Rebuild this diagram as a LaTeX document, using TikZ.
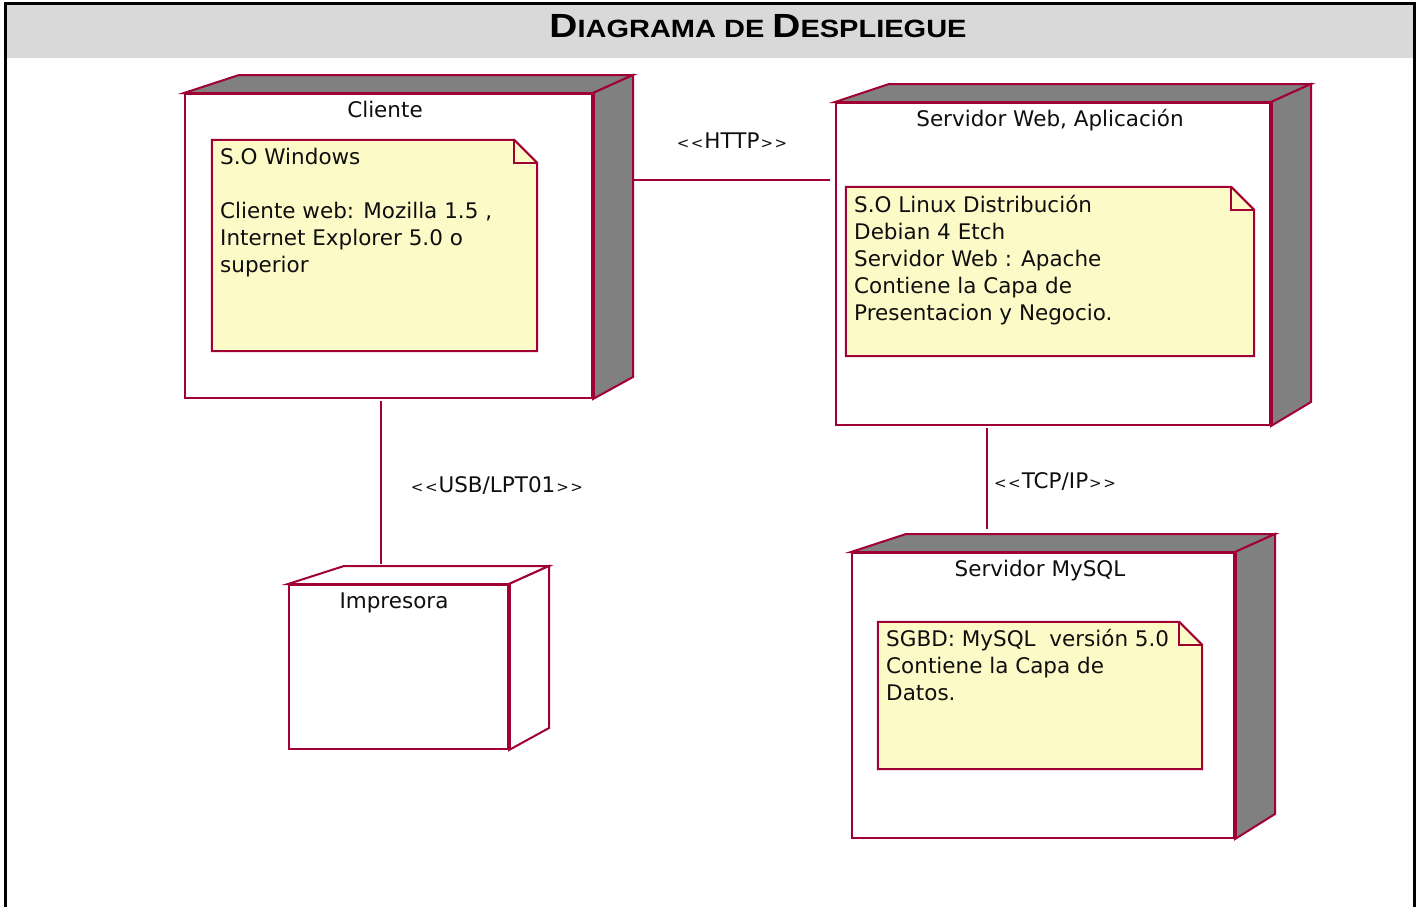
\documentclass[tikz,border=0pt]{standalone}
\usepackage{fontspec}
\usepackage{graphicx}
\setmainfont{DejaVu Sans}
\newfontfamily\headfont{Liberation Sans}
\usetikzlibrary{calc}

\definecolor{edge}{RGB}{160,0,50}
\definecolor{shade}{RGB}{128,128,128}
\definecolor{notefill}{RGB}{252,251,200}
\definecolor{band}{RGB}{217,217,217}
\definecolor{ink}{RGB}{15,15,15}

% stereotype brackets, kept apart so they are not merged into guillemets
\newcommand{\stin}{{\fontsize{15}{15}\selectfont<\kern1.5pt<}\kern1pt}
\newcommand{\stout}{\kern1pt{\fontsize{15}{15}\selectfont>\kern1.5pt>}}

\tikzset{
  txt/.style={inner sep=0pt, text=ink, font=\fontsize{21.5}{27}\selectfont},
  front/.style={draw=edge, line width=2pt, fill=white, inner sep=0pt},
  face/.style={draw=edge, line width=2pt, line join=miter},
  notebody/.style={inner sep=0pt},
  noteline/.style={draw=edge, line width=2pt, fill=notefill},
  link/.style={draw=edge, line width=2pt}
}

% 3D faces of a deployment node: #1 node, #2 face fill, #3 top-left shift, #4 bottom-right rise
\newcommand{\nodefaces}[4]{%
  \filldraw[face, fill=#2] (#1.north west) -- ++(#3,-18) -- ($(#1.north east)+(40,-18)$) -- (#1.north east) -- cycle;
  \filldraw[face, fill=#2] (#1.north east) -- ++(40,-18) -- ($(#1.south east)+(40,-#4)$) -- (#1.south east) -- cycle;
  \draw[edge, line width=4pt] (#1.north east) -- (#1.south east);
}
% note outline with folded corner
\newcommand{\noteshape}[1]{%
  \path[noteline] (#1.north west) -- ($(#1.north east)+(-23,0)$) -- ($(#1.north east)+(0,23)$) -- (#1.south east) -- (#1.south west) -- cycle;
  \draw[edge, line width=2pt] ($(#1.north east)+(-23,0)$) |- ($(#1.north east)+(0,23)$);
}

\begin{document}
\begin{tikzpicture}[x=1pt, y=-1pt]
\useasboundingbox (0,0) rectangle (1416,906);

% frame and title band
\fill[band] (5,3) rectangle (1414,58);
\draw[black, line width=3pt] (5,912) -- (5,3) -- (1414,3) -- (1414,912);
\node[inner sep=0pt, anchor=base] (title) at (758,37.5)
  {\headfont\bfseries\scalebox{1.16}[1]{\fontsize{33.5}{33.5}\selectfont D\fontsize{25}{25}\selectfont IAGRAMA DE \fontsize{33.5}{33.5}\selectfont D\fontsize{25}{25}\selectfont ESPLIEGUE}};

% deployment nodes (front faces)
\node[front, minimum width=407pt, minimum height=304pt] (cli) at (388.5,246) {};
\node[front, minimum width=434pt, minimum height=322pt] (web) at (1053,264) {};
\node[front, minimum width=382pt, minimum height=285pt] (sql) at (1043,695.5) {};
\node[front, minimum width=219pt, minimum height=164pt] (imp) at (398.5,667) {};

\nodefaces{cli}{shade}{55}{22}
\nodefaces{web}{shade}{54}{24}
\nodefaces{sql}{shade}{55}{25}
\nodefaces{imp}{white}{56}{22}

% node titles
\node[txt, anchor=base] (cliname) at (385,117) {Cliente};
\node[txt, anchor=base] (webname) at (1050,126) {Servidor Web, Aplicación};
\node[txt, anchor=base] (sqlname) at (1040,576) {Servidor MySQL};
\node[txt, anchor=base] (impname) at (394,608) {Impresora};

% notes
\node[notebody, minimum width=325pt, minimum height=211pt] (cnote) at (374.5,245.5) {};
\node[notebody, minimum width=408pt, minimum height=169pt] (wnote) at (1050,271.5) {};
\node[notebody, minimum width=324pt, minimum height=147pt] (snote) at (1040,695.5) {};
\noteshape{cnote}
\noteshape{wnote}
\noteshape{snote}

\node[txt, anchor=base west] (c1) at (220,164) {S.O Windows};
\node[txt, anchor=base west] (c2) at (220,218) {Cliente web: Mozilla 1.5 ,};
\node[txt, anchor=base west] (c3) at (220,245) {Internet Explorer 5.0 o};
\node[txt, anchor=base west] (c4) at (220,272) {superior};

\node[txt, anchor=base west] (w1) at (854,212) {S.O Linux Distribución};
\node[txt, anchor=base west] (w2) at (854,239) {Debian 4 Etch};
\node[txt, anchor=base west] (w3) at (854,266) {Servidor Web : Apache};
\node[txt, anchor=base west] (w4) at (854,293) {Contiene la Capa de};
\node[txt, anchor=base west] (w5) at (854,320) {Presentacion y Negocio.};

\node[txt, anchor=base west] (s1) at (886,646) {SGBD: MySQL\ \ versión 5.0};
\node[txt, anchor=base west] (s2) at (886,673) {Contiene la Capa de};
\node[txt, anchor=base west] (s3) at (886,700) {Datos.};

% connectors
\coordinate (cliside) at ($(cli.north east)+(41,87)$);
\coordinate (usbx) at (381,0);
\coordinate (tcpx) at (987,0);
\coordinate (imptop) at ($(imp.north)+(0,-20)$);
\coordinate (sqltop) at ($(sql.north)+(0,-23)$);
\draw[link] (cliside) -- ($(web.west |- cliside)+(-5,0)$);
\draw[link] ($(cli.south -| usbx)+(0,2)$) -- (imptop -| usbx);
\draw[link] ($(web.south -| tcpx)+(0,2)$) -- (sqltop -| tcpx);

% connector labels
\node[txt, anchor=base] (http) at (732,148) {\stin HTTP\stout};
\node[txt, anchor=base] (usb) at (497,492) {\stin USB/LPT01\stout};
\node[txt, anchor=base] (tcp) at (1055,488) {\stin TCP/IP\stout};
\end{tikzpicture}
\end{document}
